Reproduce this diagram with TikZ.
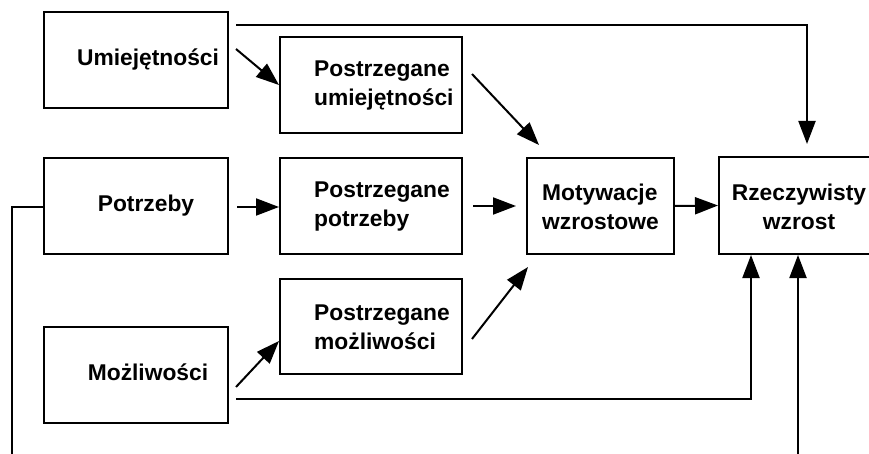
\documentclass[tikz,border=0pt]{standalone}
\usepackage{fontspec}
\setmainfont{Liberation Sans}
\usetikzlibrary{arrows.meta,calc}
\begin{document}
\begin{tikzpicture}[x=1pt,y=-1pt,
  box/.style={draw,line width=2pt,minimum width=184pt,minimum height=96pt,inner sep=0pt},
  lbl/.style={font=\fontsize{22.8}{29}\selectfont\bfseries,inner sep=0pt},
  lblL/.style={lbl,align=left,anchor=west},
  lblC/.style={lbl,align=center},
  wire/.style={line width=2pt},
  arr/.style={wire,-{Triangle[length=23pt,width=17pt]}}]
\useasboundingbox (0,0) rectangle (869,454);
\fill[white] (0,0) rectangle (869,454);
\clip (0,0) rectangle (869,454);

% boxes
\node[box] (um) at (136,60) {};
\node[box,minimum width=182pt] (pu) at (371,85) {};
\node[box] (po) at (136,206) {};
\node[box,minimum width=182pt] (pp) at (371,206) {};
\node[box,minimum width=147pt] (mo) at (600.5,206) {};
\node[box,minimum width=160pt,minimum height=97pt] (rz) at (799,205.5) {};
\node[box,minimum width=182pt,minimum height=95pt] (pm) at (371,326.5) {};
\node[box] (mz) at (136,375) {};

% labels
\node[lblC] (umt) at (148,60) {Umiejętności};
\node[lblL] (put) at (314,86) {Postrzegane\\umiejętności};
\node[lblC] (pot) at (146,206) {Potrzeby};
\node[lblL] (ppt) at (314,207) {Postrzegane\\potrzeby};
\node[lblL] (mot) at (542,207) {Motywacje\\wzrostowe};
\node[lblC] (rzt) at (799,207) {Rzeczywisty\\wzrost};
\node[lblL] (pmt) at (314,327) {Postrzegane\\możliwości};
\node[lblC] (mzt) at (148,372) {Możliwości};

% free ends of the connectors
\coordinate (umA) at (236,25);
\coordinate (umB) at (236,49);
\coordinate (puA) at (472,74);
\coordinate (moN) at (539,145);
\coordinate (pmA) at (472,339);
\coordinate (moS) at (528,267);
\coordinate (mzA) at (236,387);
\coordinate (mzB) at (236,399);
\coordinate (fbL) at (12,454);
\coordinate (fbR) at (798,454);

% connectors
\draw[arr,shorten >=12pt] (umA) -| ($(rz.north)+(8,0)$);
\draw[arr] (umB) -- (pu.west);
\draw[arr] (puA) -- (moN);
\draw[arr] ($(po.east)+(8,1)$) -- (pp.west |- {$(po.east)+(0,1)$});
\draw[arr,shorten >=10pt] ($(pp.east)+(10,0)$) -- (mo.west);
\draw[arr] (mo.east) -- (rz.west);
\draw[arr] (pmA) -- (moS);
\draw[arr] (mzA) -- ($(pm.west)+(0,14.5)$);
\draw[arr] (mzB) -| ($(rz.south)+(-48,0)$);
\draw[wire] ($(po.west)+(0,1)$) -| (fbL);
\draw[arr] (fbR) -- (rz.south -| fbR);
\end{tikzpicture}
\end{document}
